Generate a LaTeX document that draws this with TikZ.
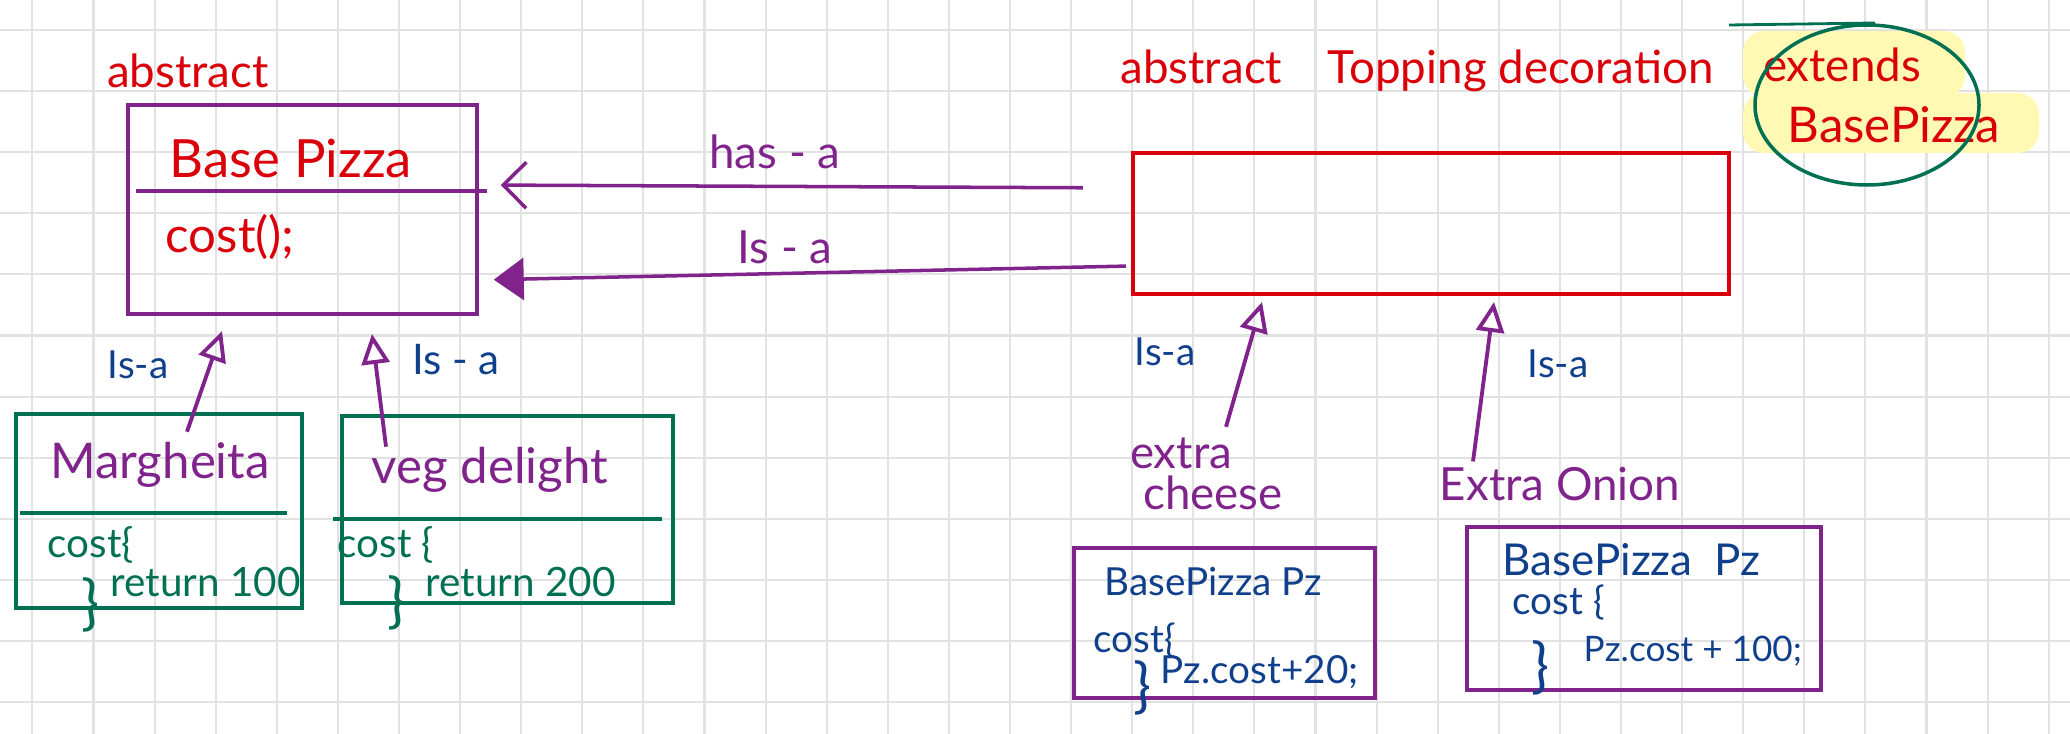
\documentclass[tikz,border=0pt]{standalone}
\usepackage{fontspec}
\setmainfont{Lato}
\usepackage{tikz}
\usepackage{xcolor}
\usetikzlibrary{arrows.meta,positioning,shapes.geometric}
\definecolor{inkpurple}{RGB}{128, 36, 140}
\definecolor{inkred}{RGB}{218, 0, 10}
\definecolor{inkgreen}{RGB}{0, 112, 82}
\definecolor{inkblue}{RGB}{16, 64, 140}
\definecolor{gridcolor}{RGB}{226, 226, 226}
\definecolor{marker}{RGB}{255, 249, 180}

\begin{document}
\begin{tikzpicture}[
  every node/.style={inner sep=0pt},
  redtext/.style={text=inkred, font=\fontsize{13}{15}\selectfont},
  purpletext/.style={text=inkpurple, font=\fontsize{14}{16}\selectfont},
  bluetext/.style={text=inkblue, font=\fontsize{11}{13}\selectfont},
  greentext/.style={text=inkgreen, font=\fontsize{11.5}{13}\selectfont},
  bracetext/.style={font=\fontsize{17}{17}\selectfont},
  classbox/.style={draw=inkpurple, line width=1pt},
  subbox/.style={draw=inkgreen, line width=1pt},
  codebox/.style={draw=inkpurple, line width=1pt},
  hasa/.style={inkpurple, line width=1pt, -{Straight Barb[length=2.3mm, width=4.6mm]}},
  isafill/.style={inkpurple, line width=1pt, -{Triangle[length=3mm, width=4.2mm]}},
  isaup/.style={inkpurple, line width=1.1pt, -{Triangle[open, length=3mm, width=2.8mm]}}
]
  \useasboundingbox (0,0) rectangle (20.7,7.33);

  % Grid paper
  \begin{scope}
    \clip (0,0) rectangle (20.7,7.33);
    \draw[gridcolor, line width=0.6pt, xshift=3.24mm, yshift=3.09mm, step=6.11mm] (-1,-1) grid (21,8);
  \end{scope}

  % Abstract base class
  \node[redtext] (abs1) at (1.88,6.62) {abstract};
  \node[classbox, minimum width=3.49cm, minimum height=2.09cm] (base) at (3.025,5.235) {};
  \draw[inkpurple, line width=1pt] (1.36,5.42) -- (4.87,5.42);
  \node[redtext, font=\fontsize{15}{17}\selectfont] (basename) at (2.91,5.75) {Base Pizza};
  \node[redtext, font=\fontsize{14}{16}\selectfont, anchor=west] (basecost) at (1.65,4.96) {cost();};

  % Abstract decorator
  \node[redtext] (abs2) at (14.17,6.62) {abstract\quad Topping decoration};
  \node[draw=inkred, line width=1.2pt, minimum width=5.96cm, minimum height=1.41cm] (topping) at (14.31,5.095) {};

  % Highlighted note
  \fill[marker, rounded corners=6pt] (17.43,7.02) rectangle (19.65,6.36);
  \fill[marker, rounded corners=6pt] (17.43,6.40) rectangle (20.39,5.80);
  \node[redtext] (ext1) at (18.42,6.68) {extends};
  \node[redtext, font=\fontsize{14}{16}\selectfont] (ext2) at (18.94,6.08) {BasePizza};
  \node[ellipse, draw=inkgreen, line width=1pt, minimum width=2.24cm, minimum height=1.6cm] (ring) at (18.67,6.28) {};
  \draw[inkgreen, line width=0.8pt] (17.29,7.08) -- (18.75,7.10);

  % has-a / is-a between decorator and base
  \node[purpletext, font=\fontsize{13}{15}\selectfont] (haslbl) at (7.75,5.81) {has - a};
  \node[purpletext, font=\fontsize{13}{15}\selectfont] (isalbl) at (7.85,4.86) {Is - a};
  \draw[hasa, shorten <=4.8mm, shorten >=2.2mm] ([yshift=3.55mm]topping.west) -- ([yshift=2.45mm]base.east);
  \draw[isafill, shorten <=0.5mm, shorten >=1.5mm] ([yshift=-4.25mm]topping.west) -- ([yshift=-7.05mm]base.east);

  % Concrete pizzas
  \node[subbox, minimum width=2.86cm, minimum height=1.94cm] (marg) at (1.59,2.22) {};
  \draw[inkgreen, line width=1pt] (0.20,2.20) -- (2.87,2.20);
  \node[purpletext] (margname) at (1.60,2.68) {Margheita};
  \node[greentext, anchor=west] (margcost) at (0.47,1.88) {cost\{};
  \node[greentext, anchor=west] (margret) at (1.10,1.51) {return 100};
  \node[greentext, bracetext] (margend) at (0.90,1.28) {\}};

  \node[subbox, minimum width=3.31cm, minimum height=1.87cm] (veg) at (5.075,2.235) {};
  \draw[inkgreen, line width=1pt] (3.33,2.14) -- (6.62,2.14);
  \node[purpletext] (vegname) at (4.90,2.63) {veg delight};
  \node[greentext, anchor=west] (vegcost) at (3.37,1.88) {cost \{};
  \node[greentext, anchor=west] (vegret) at (4.25,1.51) {return 200};
  \node[greentext, bracetext] (vegend) at (3.96,1.30) {\}};

  \coordinate (margtip) at (2.22,4.02);
  \coordinate (vegtip) at (3.72,3.99);
  \draw[isaup] ([xshift=2.7mm, yshift=1mm]margname.north) -- (margtip);
  \draw[isaup] ([xshift=-10.4mm]vegname.north) -- (vegtip);
  \node[bluetext] (margisa) at (1.38,3.68) {Is-a};
  \node[bluetext, font=\fontsize{12}{14}\selectfont] (vegisa) at (4.56,3.73) {Is - a};

  % Concrete toppings
  \node[purpletext, font=\fontsize{13}{15}\selectfont] (cheese1) at (11.81,2.80) {extra};
  \node[purpletext, font=\fontsize{13}{15}\selectfont] (cheese2) at (12.13,2.40) {cheese};
  \node[purpletext, font=\fontsize{13}{15}\selectfont] (onion) at (15.60,2.49) {Extra Onion};
  \coordinate (cheesetip) at (12.62,4.31);
  \coordinate (oniontip) at (14.94,4.31);
  \draw[isaup] ([xshift=4.5mm, yshift=1mm]cheese1.north) -- (cheesetip);
  \draw[isaup] ([xshift=-8.7mm, yshift=0.5mm]onion.north) -- (oniontip);
  \node[bluetext] (cheeseisa) at (11.65,3.81) {Is-a};
  \node[bluetext] (onionisa) at (15.58,3.69) {Is-a};

  % Topping code
  \node[codebox, minimum width=3.01cm, minimum height=1.50cm] (cheesecode) at (12.245,1.10) {};
  \node[bluetext, anchor=west] (cc1) at (11.04,1.51) {BasePizza Pz};
  \node[bluetext, anchor=west] (cc2) at (10.93,0.93) {cost\{};
  \node[bluetext, bracetext] (cc3) at (11.42,0.45) {\}};
  \node[bluetext, anchor=west] (cc4) at (11.60,0.61) {Pz.cost+20;};

  \node[codebox, minimum width=3.54cm, minimum height=1.63cm] (onioncode) at (16.44,1.245) {};
  \node[bluetext, font=\fontsize{12.5}{14}\selectfont, anchor=west] (oc1) at (15.02,1.73) {BasePizza\enspace Pz};
  \node[bluetext, anchor=west] (oc2) at (15.12,1.31) {cost \{};
  \node[bluetext, bracetext] (oc3) at (15.40,0.65) {\}};
  \node[bluetext, font=\fontsize{10}{12}\selectfont, anchor=west] (oc4) at (15.83,0.82) {Pz.cost + 100;};
\end{tikzpicture}
\end{document}
